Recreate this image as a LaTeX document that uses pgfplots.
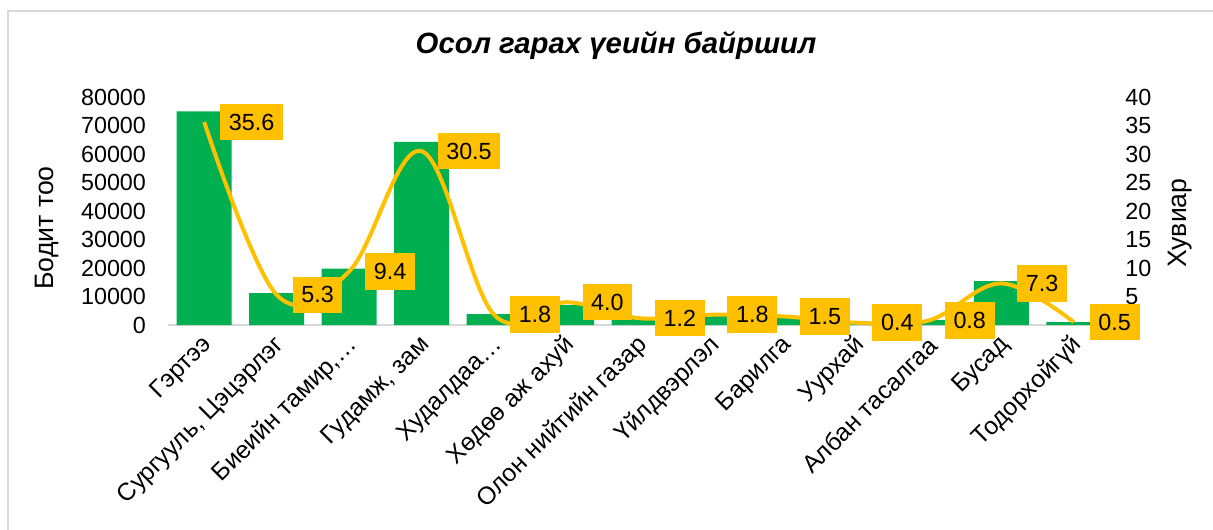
\documentclass[border=0pt]{standalone}
\usepackage{fontspec}
\setmainfont{Liberation Sans}
\usepackage{pgfplots}
\usepackage{pgfplotstable}
\pgfplotsset{compat=1.18}
\definecolor{bargreen}{HTML}{00B050}
\definecolor{gold}{HTML}{FFC000}
\definecolor{framegray}{HTML}{D9D9D9}

\pgfplotstableread{
x count pct label
0 75000 35.6 35.6
1 11200 5.3 5.3
2 19800 9.4 9.4
3 64300 30.5 30.5
4 3800 1.8 1.8
5 7000 4.0 4.0
6 2400 1.2 1.2
7 3200 1.8 1.8
8 2800 1.5 1.5
9 800 0.4 0.4
10 1700 0.8 0.8
11 15400 7.3 7.3
12 1000 0.5 0.5
}\datatable

\newcommand{\chartfont}{\fontsize{17.5}{21}\selectfont}

\begin{document}
\begin{tikzpicture}[x=0.75pt,y=-0.75pt]
\useasboundingbox (0,0) rectangle (1213,529);
\draw[framegray, line width=1.2pt] (8,11) rectangle (1260,580);

% bars, left axis
\begin{axis}[
  at={(126pt,-243.75pt)}, anchor=south west,
  scale only axis,
  width=706.5pt, height=171pt,
  xmin=-0.5, xmax=12.5,
  ymin=0, ymax=80000,
  ytick={0,10000,...,80000},
  scaled y ticks=false,
  /pgf/number format/1000 sep={},
  /pgf/number format/assume math mode=true,
  xtick={0,...,12},
  xticklabels={Гэртээ, {Сургууль, Цэцэрлэг}, {Биеийн тамир,…}, {Гудамж, зам}, Худалдаа…, Хөдөө аж ахуй, Олон нийтийн газар, Үйлдвэрлэл, Барилга, Уурхай, Албан тасалгаа, Бусад, Тодорхойгүй},
  xticklabel style={font=\fontsize{18.5}{22}\selectfont, rotate=45, anchor=east, xshift=-3pt, yshift=-11pt},
  yticklabel style={font=\chartfont, xshift=-13pt},
  major tick length=0pt,
  axis x line*=bottom,
  axis y line*=left,
  x axis line style={draw=framegray, line width=1pt, -},
  y axis line style={draw=none},
  clip=false,
]
\addplot[ybar, bar width=41.25pt, fill=bargreen, draw=none] table[x=x, y=count] {\datatable};
\end{axis}

% percentage line, right axis
\begin{axis}[
  at={(126pt,-243.75pt)}, anchor=south west,
  scale only axis,
  width=706.5pt, height=171pt,
  xmin=-0.5, xmax=12.5,
  ymin=0, ymax=40,
  ytick={0,5,...,40},
  /pgf/number format/assume math mode=true,
  axis x line=none,
  axis y line*=right,
  y axis line style={draw=none},
  yticklabel style={font=\chartfont, anchor=west, xshift=8pt},
  major tick length=0pt,
  clip=false,
]
\addplot[gold, line width=3pt, smooth, tension=0.6, mark=none,
  nodes near coords, point meta=explicit symbolic,
  every node near coord/.append style={anchor=west, xshift=10.5pt, yshift=0pt,
    fill=gold, text=black, font=\chartfont, inner xsep=6.5pt, inner ysep=7.5pt}]
  table[x=x, y=pct, meta=label] {\datatable};
\end{axis}

\node[font=\fontsize{22}{26}\selectfont\bfseries\itshape] at (616,46) {Осол гарах үеийн байршил};
\node[font=\fontsize{20}{24}\selectfont, rotate=90] at (47,228) {Бодит тоо};
\node[font=\fontsize{20}{24}\selectfont, rotate=90] at (1180,223) {Хувиар};
\end{tikzpicture}
\end{document}
